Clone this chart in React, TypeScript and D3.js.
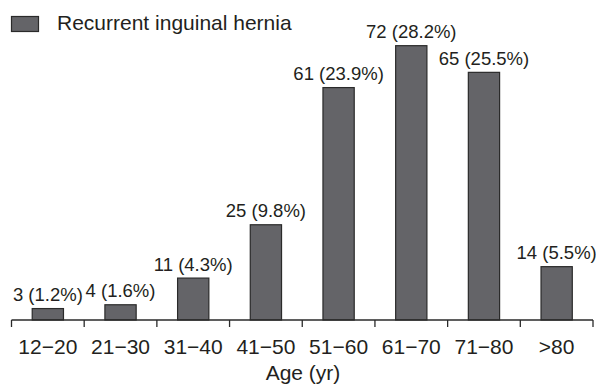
import React from "react";
import * as d3 from "d3";

const categories = ["12−20", "21−30", "31−40", "41−50", "51−60", "61−70", "71−80", ">80"];
const counts = [3, 4, 11, 25, 61, 72, 65, 14];
const percents = ["1.2", "1.6", "4.3", "9.8", "23.9", "28.2", "25.5", "5.5"];
const seriesName = "Recurrent inguinal hernia";
const axisTitle = "Age (yr)";

const W = 596;
const H = 387;
const FONT = "'Liberation Sans', Arial, Helvetica, sans-serif";
const TEXT = "#231f20";
const FILL = "#646468";
const STROKE = "#2a2a2a";

export default function App() {
  const x = d3
    .scaleBand<string>()
    .domain(categories)
    .range([11.5, 593])
    .paddingInner(0.57)
    .paddingOuter(0.285);
  const y = d3.scaleLinear().domain([0, 80]).range([320, 320 - 80 * 3.81]);
  const step = x.step();
  const tickXs = d3.range(categories.length + 1).map((i) => 11.5 + i * step);

  return (
    <svg width={W} height={H} style={{ position: "absolute", left: 0, top: 0, background: "#fff" }} fontFamily={FONT}>
      {/* legend */}
      <rect x={11.5} y={16.5} width={27} height={15} fill={FILL} stroke={STROKE} strokeWidth={1.2} />
      <text x={57} y={30} fontSize={21} fill={TEXT}>{seriesName}</text>

      {/* bars */}
      {counts.map((v, i) => (
        <g key={categories[i]}>
          <rect
            x={x(categories[i])!}
            y={y(v)}
            width={x.bandwidth()}
            height={y(0) - y(v)}
            fill={FILL}
            stroke={STROKE}
            strokeWidth={1.2}
          />
          <text
            x={x(categories[i])! + x.bandwidth() / 2}
            y={y(v) - 7.5}
            fontSize={18.5}
            textAnchor="middle"
            fill={TEXT}
          >
            {`${v} (${percents[i]}%)`}
          </text>
        </g>
      ))}

      {/* axis */}
      <line x1={11.5} x2={593} y1={320} y2={320} stroke={STROKE} strokeWidth={1.3} />
      {tickXs.map((tx, i) => (
        <line key={i} x1={tx} x2={tx} y1={320} y2={327} stroke={STROKE} strokeWidth={1.3} />
      ))}
      {categories.map((c) => (
        <text
          key={c}
          x={x(c)! + x.bandwidth() / 2}
          y={354}
          fontSize={21}
          textAnchor="middle"
          fill={TEXT}
        >
          {c}
        </text>
      ))}
      <text x={303} y={380} fontSize={21} textAnchor="middle" fill={TEXT}>{axisTitle}</text>
    </svg>
  );
}
